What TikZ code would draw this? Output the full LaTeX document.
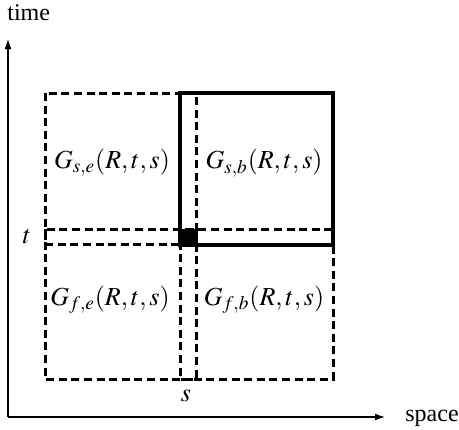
\documentclass[tikz,border=0pt]{standalone}
\usepackage{mathptmx}
\usepackage{fontspec}
\setmainfont{Liberation Serif}
\usetikzlibrary{arrows.meta}
\begin{document}
\begin{tikzpicture}[x=0.5pt,y=-0.5pt,
  axis/.style={line width=1.4pt,-{Latex[length=5.5pt,width=3.5pt]}},
  dbox/.style={line width=1.5pt, dash pattern=on 4pt off 2.3pt},
  sbox/.style={line width=1.9pt},
  lab/.style={font=\fontsize{12}{14}\selectfont, inner sep=0pt},
  glab/.style={font=\fontsize{13}{15}\selectfont, inner sep=0pt}]
\useasboundingbox (0,0) rectangle (459,429);
% axes
\coordinate (O) at (8,417);
\coordinate (Ytip) at (8,38);
\coordinate (Xtip) at (386,417);
\draw[axis] (O) -- (Ytip);
\draw[axis] (O) -- (Xtip);
\node[lab, anchor=west] (time) at (7,13) {time};
\node[lab, anchor=west] (space) at (405,418) {space};
\node[glab] (tlab) at (27,237) {$t$};
\node[glab] (slab) at (186,396) {$s$};
% dashed regions
\draw[dbox] (45,93) rectangle (196,244);
\draw[dbox] (45,229) rectangle (196,379);
\draw[dbox] (180,229) rectangle (333,379);
% solid region
\draw[sbox] (180,93) rectangle (333,245);
% intersection square
\fill (180,229) rectangle (196,245);
% labels
\node[glab] (gse) at (112,163) {$G_{s,e}(R,t,s)$};
\node[glab] (gsb) at (264,163) {$G_{s,b}(R,t,s)$};
\node[glab] (gfe) at (110,300) {$G_{f,e}(R,t,s)$};
\node[glab] (gfb) at (264,300) {$G_{f,b}(R,t,s)$};
\end{tikzpicture}
\end{document}
